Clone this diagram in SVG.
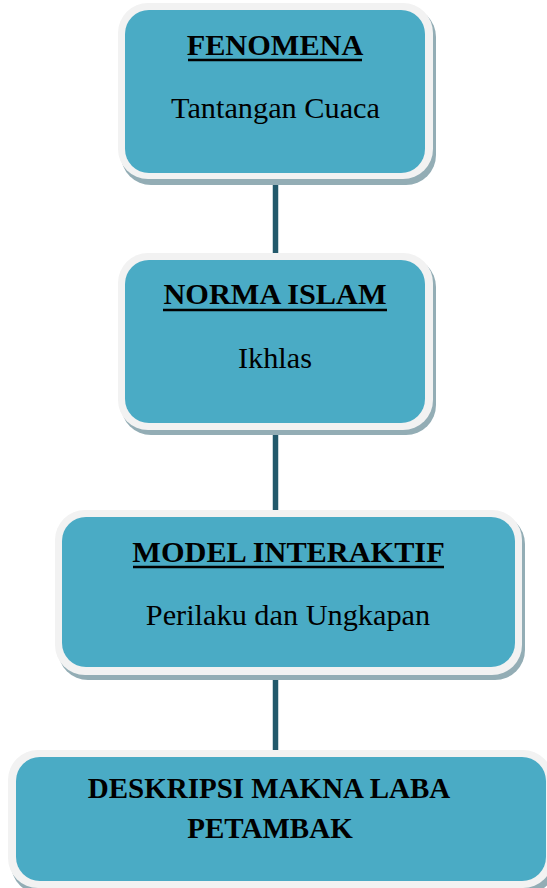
<svg xmlns="http://www.w3.org/2000/svg" width="547" height="888" viewBox="0 0 547 888">
<style>
.shadow{fill:#93adb5}
.outer{fill:#f2f2f2}
.inner{fill:#4aabc5}
.t{font-family:"Liberation Serif","Times New Roman",serif;font-size:30.3px;fill:#000;text-anchor:middle}
.s{font-size:29px}
.b{font-weight:bold}
.ul{stroke:#000;stroke-width:2.6}
.conn{stroke:#22596b;stroke-width:5.5;fill:none}
</style>
<rect width="547" height="888" fill="#fff"/>
<g id="connectors">
<line class="conn" x1="275.5" y1="178" x2="275.5" y2="258"/>
<line class="conn" x1="275.5" y1="428" x2="275.5" y2="513"/>
<line class="conn" x1="275.5" y1="673" x2="275.5" y2="753"/>
</g>
<g id="fenomena">
<rect class="shadow" x="121" y="7" width="315" height="178" rx="30"/>
<rect class="outer" x="118" y="3" width="315" height="176" rx="30"/>
<rect class="inner" x="125" y="10" width="300" height="163" rx="24"/>
<text class="t b" x="275" y="55">FENOMENA</text>
<line class="ul" x1="188" y1="60" x2="362" y2="60"/>
<text class="t" x="275.5" y="118">Tantangan Cuaca</text>
</g>
<g id="norma">
<rect class="shadow" x="121" y="257" width="315" height="178" rx="30"/>
<rect class="outer" x="118" y="253" width="315" height="177" rx="30"/>
<rect class="inner" x="125" y="260" width="300" height="163" rx="24"/>
<text class="t b" x="275" y="304">NORMA ISLAM</text>
<line class="ul" x1="163" y1="310" x2="387" y2="310"/>
<text class="t" x="275" y="368">Ikhlas</text>
</g>
<g id="model">
<rect class="shadow" x="58" y="514" width="467" height="166" rx="30"/>
<rect class="outer" x="55" y="510" width="467" height="165" rx="30"/>
<rect class="inner" x="62" y="517" width="453" height="150" rx="24"/>
<text class="t b" x="288.5" y="562">MODEL INTERAKTIF</text>
<line class="ul" x1="133" y1="567" x2="444" y2="567"/>
<text class="t" x="288" y="625">Perilaku dan Ungkapan</text>
</g>
<g id="deskripsi">
<rect class="shadow" x="11" y="754" width="545" height="140" rx="30"/>
<rect class="outer" x="8" y="750" width="545" height="138" rx="30"/>
<rect class="inner" x="16" y="757" width="530" height="124" rx="24"/>
<text class="t b s" x="269" y="798">DESKRIPSI MAKNA LABA</text>
<text class="t b s" x="270" y="838">PETAMBAK</text>
</g>
</svg>
